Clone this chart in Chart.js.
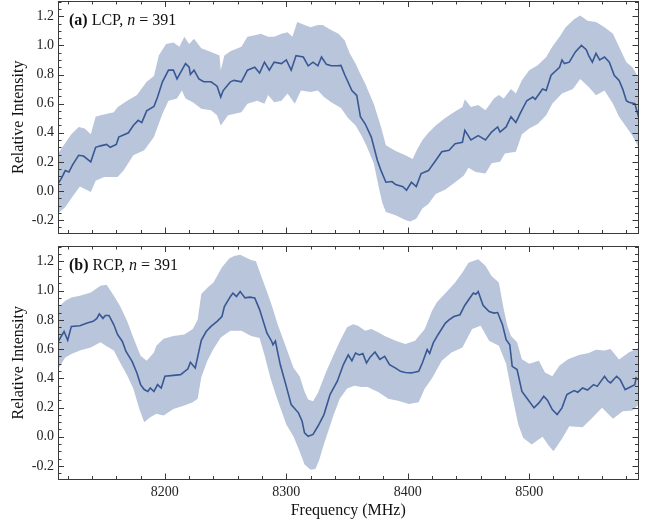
<!DOCTYPE html>
<html><head><meta charset="utf-8">
<script src="https://cdn.jsdelivr.net/npm/chart.js@4/dist/chart.umd.min.js"></script>
<style>
html,body{margin:0;padding:0;background:#fff;}
#wrap{position:relative;width:657px;height:525px;overflow:hidden;}
canvas{position:absolute;left:0;}
#c1{top:0;} #c2{top:245px;}
</style></head><body>
<div id="wrap"><canvas id="c1" width="657" height="245"></canvas><canvas id="c2" width="657" height="280"></canvas></div>
<script>
// ---------- data ----------
const xTicks = [8200, 8300, 8400, 8500];
const yTicks = [-0.2, 0, 0.2, 0.4, 0.6, 0.8, 1.0, 1.2];
const panelTags = ['(a)', '(b)'];
const panelNames = ['LCP', 'RCP'];
const panelN = [391, 391];

const lcpMean = [[8112,0.05],[8115,0.09],[8118,0.14],[8121,0.13],[8124,0.18],[8129,0.245],[8133,0.24],[8139,0.20],[8143,0.30],[8147,0.31],[8152,0.32],[8155,0.30],[8160,0.32],[8162,0.37],[8170,0.40],[8174,0.45],[8178,0.485],[8181,0.47],[8185,0.55],[8191,0.58],[8194,0.645],[8198,0.75],[8203,0.83],[8207,0.83],[8210,0.77],[8214,0.83],[8217,0.875],[8220,0.85],[8221,0.80],[8224,0.83],[8228,0.77],[8232,0.75],[8238,0.75],[8243,0.72],[8246,0.645],[8248,0.69],[8252,0.73],[8254,0.75],[8257,0.76],[8263,0.75],[8268,0.83],[8274,0.85],[8278,0.81],[8282,0.885],[8286,0.83],[8290,0.885],[8296,0.875],[8300,0.90],[8304,0.83],[8308,0.93],[8314,0.92],[8318,0.86],[8322,0.885],[8326,0.86],[8329,0.92],[8333,0.87],[8337,0.86],[8342,0.86],[8345,0.863],[8348,0.80],[8354,0.69],[8358,0.657],[8361,0.51],[8365,0.46],[8370,0.37],[8375,0.21],[8378,0.14],[8382,0.06],[8387,0.065],[8390,0.044],[8396,0.03],[8399,0.005],[8403,0.06],[8407,0.03],[8411,0.12],[8417,0.14],[8423,0.21],[8428,0.27],[8434,0.28],[8439,0.325],[8445,0.335],[8447,0.417],[8452,0.35],[8458,0.38],[8464,0.35],[8469,0.405],[8474,0.44],[8476,0.405],[8481,0.44],[8485,0.51],[8489,0.47],[8493,0.54],[8498,0.62],[8503,0.645],[8505,0.63],[8511,0.70],[8514,0.69],[8518,0.795],[8525,0.85],[8527,0.90],[8529,0.875],[8533,0.885],[8538,0.955],[8543,1.0],[8547,0.97],[8549,0.93],[8552,0.885],[8555,0.945],[8558,0.90],[8562,0.92],[8566,0.885],[8570,0.795],[8574,0.76],[8577,0.70],[8580,0.62],[8582,0.61],[8587,0.60],[8590,0.51]];
const lcpUpper = [[8112,0.257],[8118,0.33],[8123,0.39],[8129,0.44],[8134,0.43],[8139,0.39],[8143,0.51],[8147,0.52],[8158,0.54],[8161,0.575],[8169,0.62],[8177,0.66],[8185,0.75],[8191,0.79],[8195,0.93],[8201,1.01],[8207,1.02],[8212,0.99],[8216,1.06],[8220,1.01],[8224,1.045],[8230,0.98],[8238,0.955],[8245,0.93],[8246,0.83],[8249,0.93],[8254,0.96],[8263,0.99],[8268,1.06],[8274,1.07],[8279,1.08],[8285,1.06],[8290,1.06],[8296,1.08],[8301,1.09],[8305,1.06],[8309,1.16],[8315,1.14],[8320,1.125],[8326,1.14],[8330,1.14],[8336,1.11],[8343,1.08],[8348,1.035],[8352,0.95],[8357,0.875],[8360,0.82],[8365,0.737],[8372,0.60],[8378,0.44],[8382,0.314],[8390,0.275],[8398,0.245],[8404,0.22],[8408,0.29],[8412,0.348],[8417,0.40],[8423,0.45],[8430,0.497],[8436,0.53],[8445,0.577],[8447,0.63],[8452,0.577],[8458,0.59],[8464,0.555],[8471,0.635],[8475,0.66],[8479,0.635],[8485,0.70],[8489,0.67],[8494,0.76],[8500,0.83],[8507,0.863],[8514,0.92],[8519,0.99],[8525,1.06],[8530,1.125],[8537,1.18],[8542,1.205],[8548,1.17],[8555,1.16],[8562,1.125],[8569,1.08],[8574,0.99],[8580,0.885],[8585,0.85],[8590,0.78]];
const lcpLower = [[8112,-0.155],[8118,-0.11],[8123,-0.05],[8130,0.03],[8139,-0.007],[8143,0.07],[8150,0.096],[8161,0.096],[8166,0.14],[8174,0.245],[8183,0.28],[8191,0.37],[8198,0.53],[8203,0.62],[8210,0.635],[8214,0.69],[8217,0.635],[8223,0.61],[8230,0.565],[8238,0.555],[8243,0.52],[8246,0.45],[8252,0.52],[8263,0.54],[8268,0.60],[8276,0.62],[8282,0.60],[8285,0.66],[8290,0.61],[8296,0.62],[8301,0.67],[8307,0.60],[8312,0.69],[8320,0.68],[8326,0.69],[8331,0.645],[8337,0.61],[8345,0.57],[8351,0.50],[8357,0.45],[8362,0.38],[8366,0.31],[8372,0.19],[8376,0.03],[8379,-0.08],[8382,-0.144],[8390,-0.167],[8398,-0.20],[8402,-0.21],[8407,-0.19],[8412,-0.12],[8417,-0.09],[8423,-0.02],[8431,0.01],[8439,0.06],[8446,0.105],[8450,0.16],[8456,0.13],[8464,0.12],[8469,0.19],[8476,0.20],[8480,0.257],[8489,0.27],[8494,0.39],[8500,0.43],[8507,0.46],[8514,0.52],[8519,0.60],[8527,0.67],[8536,0.70],[8542,0.77],[8549,0.715],[8555,0.657],[8562,0.69],[8569,0.60],[8574,0.51],[8580,0.44],[8585,0.38],[8590,0.30]];

const rcpMean = [[8112,0.65],[8117,0.72],[8120,0.66],[8123,0.755],[8130,0.76],[8136,0.778],[8141,0.79],[8144,0.81],[8146,0.84],[8149,0.81],[8151,0.83],[8154,0.83],[8158,0.766],[8161,0.70],[8165,0.652],[8168,0.584],[8173,0.516],[8177,0.437],[8180,0.357],[8183,0.323],[8186,0.31],[8188,0.334],[8191,0.31],[8194,0.357],[8197,0.334],[8200,0.414],[8207,0.42],[8213,0.425],[8219,0.465],[8221,0.51],[8225,0.47],[8230,0.66],[8234,0.72],[8238,0.755],[8243,0.79],[8247,0.823],[8249,0.89],[8254,0.96],[8256,0.983],[8259,0.96],[8262,0.994],[8266,0.95],[8270,0.955],[8274,0.95],[8278,0.87],[8284,0.71],[8288,0.652],[8289,0.63],[8291,0.655],[8295,0.494],[8300,0.345],[8304,0.22],[8310,0.164],[8313,0.106],[8315,0.027],[8318,0.004],[8322,0.016],[8326,0.072],[8331,0.152],[8336,0.289],[8342,0.38],[8347,0.494],[8351,0.56],[8354,0.52],[8357,0.573],[8360,0.56],[8363,0.57],[8366,0.505],[8369,0.545],[8373,0.58],[8377,0.53],[8381,0.55],[8385,0.494],[8390,0.47],[8394,0.448],[8398,0.44],[8403,0.437],[8409,0.448],[8412,0.505],[8416,0.596],[8418,0.57],[8421,0.642],[8425,0.70],[8431,0.778],[8434,0.80],[8438,0.823],[8443,0.835],[8447,0.90],[8452,0.96],[8454,0.983],[8456,0.975],[8458,0.994],[8462,0.90],[8467,0.857],[8471,0.846],[8474,0.85],[8478,0.767],[8481,0.664],[8484,0.63],[8486,0.482],[8490,0.46],[8494,0.31],[8498,0.266],[8504,0.198],[8508,0.232],[8512,0.277],[8515,0.25],[8519,0.186],[8523,0.152],[8527,0.198],[8531,0.289],[8537,0.316],[8540,0.305],[8544,0.334],[8548,0.32],[8553,0.357],[8556,0.345],[8562,0.414],[8565,0.38],[8567,0.369],[8572,0.414],[8575,0.39],[8579,0.323],[8582,0.335],[8587,0.357],[8588,0.403],[8590,0.39]];
const rcpUpper = [[8112,0.885],[8118,0.93],[8123,0.953],[8130,0.965],[8139,0.987],[8147,1.033],[8152,1.04],[8158,0.965],[8163,0.896],[8169,0.79],[8174,0.68],[8180,0.555],[8185,0.52],[8191,0.577],[8193,0.623],[8199,0.67],[8207,0.69],[8216,0.70],[8223,0.737],[8227,0.80],[8230,0.976],[8235,1.02],[8240,1.055],[8247,1.16],[8253,1.22],[8257,1.237],[8262,1.245],[8271,1.21],[8275,1.2],[8278,1.13],[8284,0.994],[8288,0.90],[8293,0.767],[8300,0.607],[8306,0.47],[8311,0.414],[8315,0.31],[8318,0.255],[8322,0.243],[8326,0.30],[8333,0.448],[8339,0.562],[8344,0.652],[8350,0.75],[8355,0.77],[8359,0.76],[8365,0.726],[8370,0.737],[8376,0.714],[8381,0.69],[8390,0.657],[8398,0.635],[8406,0.657],[8414,0.737],[8420,0.862],[8424,0.92],[8434,1.01],[8439,1.055],[8445,1.124],[8450,1.19],[8458,1.215],[8464,1.17],[8469,1.10],[8475,1.055],[8479,0.874],[8482,0.76],[8485,0.69],[8490,0.646],[8494,0.53],[8500,0.50],[8508,0.52],[8513,0.44],[8519,0.414],[8525,0.487],[8532,0.53],[8541,0.56],[8549,0.573],[8555,0.596],[8562,0.59],[8567,0.60],[8574,0.528],[8582,0.576],[8590,0.607]];
const rcpLower = [[8112,0.464],[8118,0.543],[8123,0.567],[8130,0.59],[8139,0.61],[8147,0.646],[8152,0.62],[8158,0.59],[8163,0.51],[8169,0.42],[8174,0.33],[8179,0.19],[8183,0.10],[8188,0.134],[8193,0.157],[8199,0.146],[8207,0.19],[8216,0.214],[8223,0.236],[8227,0.26],[8230,0.407],[8235,0.52],[8240,0.60],[8246,0.68],[8254,0.726],[8263,0.726],[8271,0.69],[8278,0.676],[8282,0.56],[8287,0.40],[8292,0.27],[8300,0.085],[8306,0.0],[8311,-0.10],[8315,-0.19],[8320,-0.225],[8324,-0.22],[8327,-0.16],[8331,-0.05],[8335,0.05],[8339,0.15],[8344,0.26],[8350,0.33],[8356,0.35],[8362,0.34],[8367,0.34],[8376,0.305],[8384,0.26],[8392,0.246],[8401,0.225],[8409,0.236],[8414,0.33],[8420,0.40],[8428,0.52],[8436,0.576],[8445,0.61],[8453,0.737],[8460,0.76],[8467,0.657],[8475,0.623],[8481,0.50],[8486,0.28],[8491,0.084],[8495,-0.007],[8502,-0.053],[8511,0.0],[8516,-0.06],[8520,-0.098],[8527,-0.014],[8533,0.072],[8544,0.065],[8552,0.13],[8560,0.198],[8569,0.123],[8577,0.175],[8585,0.18],[8590,0.22]];

// ---------- styling ----------
const X_MIN = 8112, X_MAX = 8590, Y_MIN = -0.292, Y_MAX = 1.305;
const LINE = '#385895', BAND = '#b9c5da', FRAME = '#3a3a3a', TXT = '#222';
const FAM = '"Liberation Serif", "Times New Roman", serif';
Chart.defaults.font.family = FAM;

const toXY = arr => arr.map(p => ({x: p[0], y: p[1]}));

const framePlugin = {
  id: 'frameTicks',
  afterDatasetsDraw(chart) {
    const {ctx, chartArea: a, scales: {x, y}} = chart;
    ctx.save();
    ctx.strokeStyle = FRAME; ctx.lineWidth = 1;
    ctx.beginPath();
    const MAJ = 6, MIN = 3.5;
    for (let v = 8120; v <= 8580; v += 20) {
      const px = Math.round(x.getPixelForValue(v)) + 0.5;
      const L = (v % 100 === 0) ? MAJ : MIN;
      ctx.moveTo(px, a.bottom); ctx.lineTo(px, a.bottom - L);
      ctx.moveTo(px, a.top); ctx.lineTo(px, a.top + L);
    }
    for (let i = -5; i <= 26; i++) {
      const v = i * 0.05;
      if (v < Y_MIN || v > Y_MAX) continue;
      const py = Math.round(y.getPixelForValue(v)) + 0.5;
      const L = (i % 4 === 0) ? MAJ : MIN;
      ctx.moveTo(a.left, py); ctx.lineTo(a.left + L, py);
      ctx.moveTo(a.right, py); ctx.lineTo(a.right - L, py);
    }
    ctx.stroke();
    ctx.strokeRect(Math.round(a.left) + 0.5, Math.round(a.top) + 0.5,
                   Math.round(a.right - a.left) - 1, Math.round(a.bottom - a.top) - 1);
    ctx.restore();
  }
};

const labelPlugin = {
  id: 'panelLabel',
  afterDraw(chart, args, opts) {
    const {ctx, chartArea: a} = chart;
    const i = opts.index;
    const parts = [
      [panelTags[i], 'bold 16px ' + FAM],
      [' ' + panelNames[i] + ', ', '16px ' + FAM],
      ['n', 'italic 16px ' + FAM],
      [' = ' + panelN[i], '16px ' + FAM]
    ];
    ctx.save();
    ctx.fillStyle = '#111';
    ctx.textBaseline = 'alphabetic';
    let x = a.left + 11;
    const yb = a.top + 24;
    for (const [t, f] of parts) {
      ctx.font = f;
      ctx.fillText(t, x, yb);
      x += ctx.measureText(t).width;
    }
    ctx.restore();
  }
};

function noPad(s) { s.paddingTop = 0; s.paddingBottom = 0; s.paddingLeft = 0; s.paddingRight = 0; }

function makeChart(id, mean, upper, lower, idx, showX) {
  const xScale = {
    type: 'linear', min: X_MIN, max: X_MAX, display: showX,
    grid: {display: false, drawTicks: false}, border: {display: false},
    ticks: {font: {size: 14, family: FAM}, color: TXT, padding: 4, maxRotation: 0, autoSkip: false,
            callback: v => String(v)},
    afterBuildTicks: s => { s.ticks = xTicks.map(v => ({value: v})); },
    afterFit: s => { noPad(s); if (showX) s.height = 45.5; },
    title: {display: showX, text: 'Frequency (MHz)', color: '#111', font: {size: 16, family: FAM}, padding: {top: 0, bottom: 5}}
  };
  return new Chart(document.getElementById(id), {
    type: 'line',
    data: {datasets: [
      {data: toXY(mean), borderColor: LINE, borderWidth: 1.6, pointRadius: 0, fill: false, order: 0, tension: 0},
      {data: toXY(upper), borderColor: 'rgba(0,0,0,0)', borderWidth: 0, pointRadius: 0, fill: 2, backgroundColor: BAND, order: 1},
      {data: toXY(lower), borderColor: 'rgba(0,0,0,0)', borderWidth: 0, pointRadius: 0, fill: false, order: 2}
    ]},
    options: {
      responsive: false, animation: false, devicePixelRatio: 1,
      layout: {padding: {left: 0, right: 18.5, top: 1, bottom: showX ? 0 : 11.5}},
      plugins: {legend: {display: false}, tooltip: {enabled: false}, panelLabel: {index: idx}},
      scales: {
        x: xScale,
        y: {
          type: 'linear', min: Y_MIN, max: Y_MAX,
          grid: {display: false, drawTicks: false}, border: {display: false},
          ticks: {font: {size: 14, family: FAM}, color: TXT, padding: 4, autoSkip: false,
                  callback: v => Number(v).toFixed(1)},
          afterBuildTicks: s => { s.ticks = yTicks.map(v => ({value: v})); },
          afterFit: s => { noPad(s); s.width = 58; },
          title: {display: true, text: 'Relative Intensity', color: '#111', font: {size: 16, family: FAM}, padding: {top: 9, bottom: 9}}
        }
      }
    },
    plugins: [framePlugin, labelPlugin]
  });
}

makeChart('c1', lcpMean, lcpUpper, lcpLower, 0, false);
makeChart('c2', rcpMean, rcpUpper, rcpLower, 1, true);
</script>
</body></html>
